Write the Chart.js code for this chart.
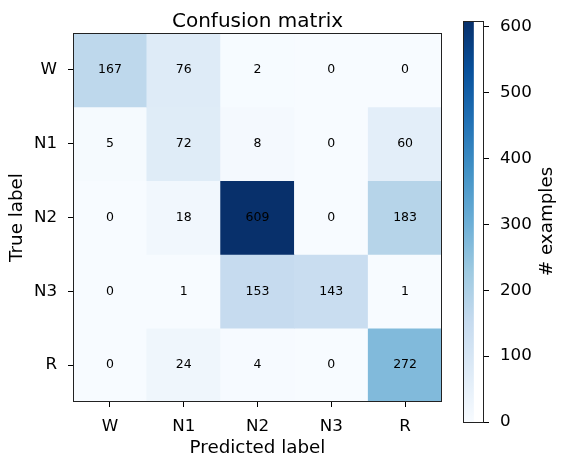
<!DOCTYPE html>
<html>
<head>
<meta charset="utf-8">
<script src="https://cdn.jsdelivr.net/npm/chart.js@4.4.1/dist/chart.umd.min.js"></script>
<style>
  html, body { margin: 0; padding: 0; background: #fff; }
  #wrap { position: relative; width: 567px; height: 469px; overflow: hidden; }
  #main { position: absolute; left: 0; top: 0; }
  #cbar { position: absolute; left: 445px; top: 0; }
</style>
</head>
<body>
<div id="wrap">
  <canvas id="main" width="445" height="469"></canvas>
  <canvas id="cbar" width="122" height="469"></canvas>
</div>
<script>
// ---- data ----
const predictedLabels = ['W', 'N1', 'N2', 'N3', 'R'];
const trueLabels = ['W', 'N1', 'N2', 'N3', 'R'];
const rowW  = [167, 76, 2, 0, 0];
const rowN1 = [5, 72, 8, 0, 60];
const rowN2 = [0, 18, 609, 0, 183];
const rowN3 = [0, 1, 153, 143, 1];
const rowR  = [0, 24, 4, 0, 272];
const matrixRows = [rowW, rowN1, rowN2, rowN3, rowR];
const colorbarTicks = [0, 100, 200, 300, 400, 500, 600];

const FONT = "'DejaVu Sans', sans-serif";
const vmax = Math.max(...matrixRows.flat());
const vmin = 0;

// matplotlib "Blues" colormap anchors
const blues = ['#f7fbff', '#deebf7', '#c6dbef', '#9ecae1', '#6baed6', '#4292c6', '#2171b5', '#08519c', '#08306b'];
function hexToRgb(h) { return [parseInt(h.slice(1,3),16), parseInt(h.slice(3,5),16), parseInt(h.slice(5,7),16)]; }
function bluesColor(t) {
  t = Math.max(0, Math.min(1, t));
  const pos = t * (blues.length - 1);
  const i = Math.min(Math.floor(pos), blues.length - 2);
  const f = pos - i;
  const a = hexToRgb(blues[i]), b = hexToRgb(blues[i + 1]);
  const c = a.map((v, k) => Math.round(v + (b[k] - v) * f));
  return `rgb(${c[0]},${c[1]},${c[2]})`;
}

// ---- main heatmap ----
const datasets = matrixRows.map((row, i) => ({
  label: trueLabels[i],
  data: row.map(() => [i - 0.5, i + 0.5]),
  values: row,
  backgroundColor: row.map(v => bluesColor((v - vmin) / (vmax - vmin))),
  borderWidth: 0,
  grouped: false,
  barPercentage: 1,
  categoryPercentage: 1
}));

const cellTextPlugin = {
  id: 'cellText',
  afterDatasetsDraw(chart) {
    const ctx = chart.ctx;
    ctx.save();
    ctx.font = `12.5px ${FONT}`;
    ctx.fillStyle = '#000';
    ctx.textAlign = 'center';
    ctx.textBaseline = 'middle';
    chart.data.datasets.forEach((ds, di) => {
      chart.getDatasetMeta(di).data.forEach((bar, j) => {
        const cy = (bar.y + bar.base) / 2;
        ctx.fillText(String(ds.values[j]), bar.x, cy);
      });
    });
    ctx.restore();
  },
  afterDraw(chart) {
    const a = chart.chartArea, ctx = chart.ctx;
    ctx.save();
    ctx.strokeStyle = '#222';
    ctx.lineWidth = 1;
    ctx.strokeRect(Math.round(a.left) + 0.5, Math.round(a.top) + 0.5, Math.round(a.right - a.left) - 1, Math.round(a.bottom - a.top) - 1);
    // title centred over the axes
    ctx.font = `20px ${FONT}`;
    ctx.fillStyle = '#000';
    ctx.textAlign = 'center';
    ctx.textBaseline = 'alphabetic';
    ctx.fillText('Confusion matrix', (a.left + a.right) / 2, 27);
    ctx.restore();
  }
};

new Chart(document.getElementById('main'), {
  type: 'bar',
  data: { labels: predictedLabels, datasets },
  options: {
    responsive: false,
    animation: false,
    devicePixelRatio: 1,
    layout: { padding: { left: 0, right: 3, top: 33, bottom: 0 } },
    plugins: {
      legend: { display: false },
      tooltip: { enabled: false },
      title: { display: false }
    },
    scales: {
      x: {
        type: 'category',
        offset: true,
        grid: { display: true, offset: false, drawOnChartArea: false, tickLength: 5, color: '#000', tickColor: '#000' },
        border: { display: false },
        ticks: { color: '#000', font: { family: FONT, size: 16.7 }, padding: 10, maxRotation: 0 },
        title: { display: true, text: 'Predicted label', color: '#000', font: { family: FONT, size: 18.3 }, padding: { top: 0, bottom: 10 } },
        afterFit(s) { s.height = 67; }
      },
      y: {
        type: 'linear',
        reverse: true,
        min: -0.5,
        max: 4.5,
        grid: { display: true, drawOnChartArea: false, tickLength: 5, color: '#000', tickColor: '#000' },
        border: { display: false },
        afterBuildTicks(s) { s.ticks = trueLabels.map((_, i) => ({ value: i })); },
        ticks: { color: '#000', font: { family: FONT, size: 16.7 }, padding: 11, callback: v => trueLabels[v] },
        title: { display: true, text: 'True label', color: '#000', font: { family: FONT, size: 18.3 }, padding: { top: 6, bottom: 0 } },
        afterFit(s) { s.width = 73; }
      }
    }
  },
  plugins: [cellTextPlugin]
});

// ---- colorbar ----
const cbarPlugin = {
  id: 'cbarDeco',
  afterDraw(chart) {
    const a = chart.chartArea, ctx = chart.ctx;
    ctx.save();
    ctx.strokeStyle = '#222';
    ctx.lineWidth = 1;
    ctx.strokeRect(Math.round(a.left) + 0.5, Math.round(a.top) + 0.5, Math.round(a.right - a.left) - 1, Math.round(a.bottom - a.top));
    ctx.translate(102, (a.top + a.bottom) / 2);
    ctx.rotate(-Math.PI / 2);
    ctx.font = `18.3px ${FONT}`;
    ctx.fillStyle = '#000';
    ctx.textAlign = 'center';
    ctx.textBaseline = 'middle';
    ctx.fillText('# examples', 0, 0);
    ctx.restore();
  }
};

new Chart(document.getElementById('cbar'), {
  type: 'bar',
  data: {
    labels: [''],
    datasets: [{
      data: [[vmin, vmax]],
      borderWidth: 0,
      barPercentage: 1,
      categoryPercentage: 1,
      backgroundColor(c) {
        const chart = c.chart;
        const ys = chart.scales.y;
        if (!chart.chartArea || !ys) return blues[4];
        const g = chart.ctx.createLinearGradient(0, ys.getPixelForValue(vmin), 0, ys.getPixelForValue(vmax));
        blues.forEach((col, k) => g.addColorStop(k / (blues.length - 1), col));
        return g;
      }
    }]
  },
  options: {
    responsive: false,
    animation: false,
    devicePixelRatio: 1,
    layout: { padding: { left: 18, right: 0, top: 12, bottom: 47 } },
    plugins: { legend: { display: false }, tooltip: { enabled: false } },
    scales: {
      x: { display: false, offset: false },
      y: {
        position: 'right',
        min: vmin,
        max: vmax,
        grid: { display: true, drawOnChartArea: false, tickLength: 5, color: '#000', tickColor: '#000' },
        border: { display: false },
        afterBuildTicks(s) { s.ticks = colorbarTicks.map(v => ({ value: v })); },
        ticks: { color: '#000', font: { family: FONT, size: 16.7 }, padding: 11 },
        afterFit(s) { s.width = 83; }
      }
    }
  },
  plugins: [cbarPlugin]
});
</script>
</body>
</html>
